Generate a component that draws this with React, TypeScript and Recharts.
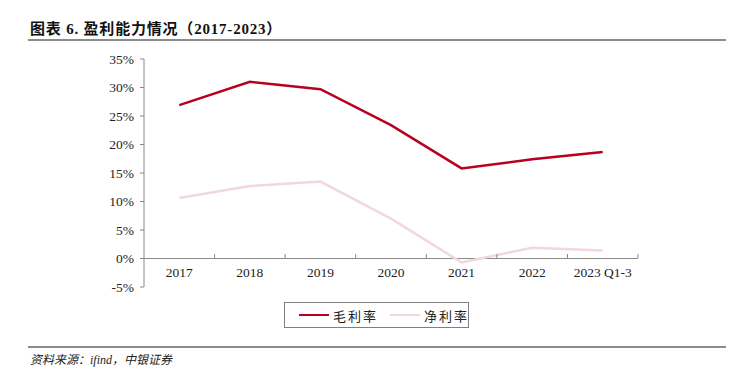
import React from 'react';
import { LineChart, Line, XAxis, YAxis, ReferenceLine } from 'recharts';

const categories = ['2017', '2018', '2019', '2020', '2021', '2022', '2023 Q1-3'];
const grossMargin = [26.9, 31.0, 29.7, 23.4, 15.8, 17.4, 18.7];
const netMargin = [10.6, 12.7, 13.5, 7.0, -0.7, 1.9, 1.4];
const yTicks = [-5, 0, 5, 10, 15, 20, 25, 30, 35];

const data = categories.map((name, i) => ({
  name,
  gross: grossMargin[i],
  net: netMargin[i],
}));

const SERIF = '"Liberation Serif", "Times New Roman", "Noto Sans CJK SC", serif';
const AXIS_COLOR = '#8a8a8a';
const GROSS_COLOR = '#B8001F';
const NET_COLOR = '#F2D8DA';

const PLOT_W = 494;
const HALF_BAND = PLOT_W / categories.length / 2;

// x labels sit under the zero line, not at the bottom of the plot
function XTick(props: any) {
  const { x, y, payload } = props;
  const axisY = y - 37;
  return (
    <g>
      <line x1={x + HALF_BAND} x2={x + HALF_BAND} y1={axisY - 4} y2={axisY} stroke={AXIS_COLOR} strokeWidth={1} />
      <text x={x} y={axisY + 19} textAnchor="middle" fontSize={13.5} fill="#222" fontFamily={SERIF}>
        {payload.value}
      </text>
    </g>
  );
}

function LegendBox() {
  const item = (color: string, label: string) => (
    <div style={{ display: 'flex', alignItems: 'center', marginRight: 12, whiteSpace: 'nowrap' }}>
      <div style={{ width: 30, height: 2.5, background: color, marginRight: 4 }} />
      <span style={{ fontSize: 13, color: '#222', letterSpacing: 2 }}>{label}</span>
    </div>
  );
  return (
    <div
      style={{
        position: 'absolute',
        left: 284,
        top: 302,
        width: 185,
        height: 26,
        border: '1px solid #7f7f7f',
        display: 'flex',
        alignItems: 'center',
        paddingLeft: 14,
        boxSizing: 'border-box',
      }}
    >
      {item(GROSS_COLOR, '毛利率')}
      {item(NET_COLOR, '净利率')}
    </div>
  );
}

export default function App() {
  return (
    <div style={{ position: 'fixed', left: 0, top: 0, width: 734, height: 376, background: '#fff', fontFamily: SERIF }}>
      <div style={{ position: 'absolute', left: 30, top: 17, fontSize: 15, fontWeight: 'bold', color: '#111', letterSpacing: 0.8 }}>
        图表 6. 盈利能力情况（2017-2023）
      </div>
      <div style={{ position: 'absolute', left: 28, top: 39, width: 698, height: 2, background: '#8c8c8c' }} />

      <LineChart
        width={734}
        height={376}
        data={data}
        margin={{ top: 59, right: 96, bottom: 59, left: 84 }}
        style={{ position: 'absolute', left: 0, top: 0 }}
      >
        <XAxis
          dataKey="name"
          axisLine={false}
          tickLine={false}
          tick={<XTick />}
          interval={0}
          height={30}
          padding={{ left: HALF_BAND, right: HALF_BAND }}
        />
        <YAxis
          domain={[-5, 35]}
          ticks={yTicks}
          interval={0}
          width={60}
          axisLine={{ stroke: AXIS_COLOR }}
          tickLine={{ stroke: AXIS_COLOR }}
          tickSize={4}
          tickMargin={6}
          tick={{ fontSize: 13.5, fill: '#222', fontFamily: SERIF }}
          tickFormatter={(v) => `${v}%`}
        />
        <ReferenceLine y={0} stroke={AXIS_COLOR} strokeWidth={1} />
        <Line
          type="linear"
          dataKey="gross"
          name="毛利率"
          stroke={GROSS_COLOR}
          strokeWidth={2.5}
          dot={false}
          isAnimationActive={false}
        />
        <Line
          type="linear"
          dataKey="net"
          name="净利率"
          stroke={NET_COLOR}
          strokeWidth={2.5}
          dot={false}
          isAnimationActive={false}
        />
      </LineChart>

      <LegendBox />

      <div style={{ position: 'absolute', left: 28, top: 346, width: 698, height: 2, background: '#8c8c8c' }} />
      <div style={{ position: 'absolute', left: 30, top: 350, fontSize: 12, fontStyle: 'italic', color: '#222' }}>
        资料来源：ifind，中银证券
      </div>
    </div>
  );
}
